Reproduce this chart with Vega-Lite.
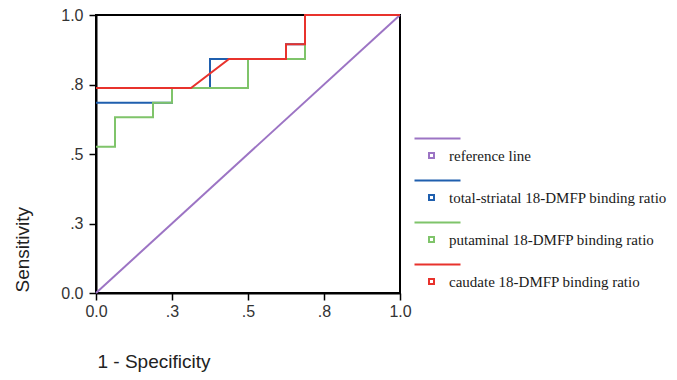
{
  "$schema": "https://vega.github.io/schema/vega-lite/v6.json",
  "autosize": "none",
  "padding": {"left": 96, "top": 15, "right": 277, "bottom": 87},
  "width": 304,
  "height": 278,
  "background": "white",
  "config": {
    "view": {"stroke": "black", "strokeWidth": 2},
    "axis": {
      "grid": false,
      "domainColor": "black",
      "domainWidth": 2,
      "tickColor": "black",
      "tickWidth": 1.5,
      "tickSize": 7,
      "labelFont": "Liberation Sans",
      "labelFontSize": 16,
      "labelColor": "#333333",
      "labelPadding": 6,
      "labelFlush": false,
      "titleFont": "Liberation Sans",
      "titleFontSize": 19,
      "titleFontWeight": "normal",
      "titleColor": "#222222"
    }
  },
  "data": {
    "values": [
      {"series": "reference line", "ord": 0, "fpr": 0, "tpr": 0},
      {"series": "reference line", "ord": 1, "fpr": 1, "tpr": 1},
      {"series": "total-striatal 18-DMFP binding ratio", "ord": 0, "fpr": 0, "tpr": 0.684},
      {"series": "total-striatal 18-DMFP binding ratio", "ord": 1, "fpr": 0.25, "tpr": 0.684},
      {"series": "total-striatal 18-DMFP binding ratio", "ord": 2, "fpr": 0.25, "tpr": 0.737},
      {"series": "total-striatal 18-DMFP binding ratio", "ord": 3, "fpr": 0.375, "tpr": 0.737},
      {"series": "total-striatal 18-DMFP binding ratio", "ord": 4, "fpr": 0.375, "tpr": 0.842},
      {"series": "total-striatal 18-DMFP binding ratio", "ord": 5, "fpr": 0.625, "tpr": 0.842},
      {"series": "total-striatal 18-DMFP binding ratio", "ord": 6, "fpr": 0.625, "tpr": 0.895},
      {"series": "total-striatal 18-DMFP binding ratio", "ord": 7, "fpr": 0.6875, "tpr": 0.895},
      {"series": "total-striatal 18-DMFP binding ratio", "ord": 8, "fpr": 0.6875, "tpr": 1},
      {"series": "total-striatal 18-DMFP binding ratio", "ord": 9, "fpr": 1, "tpr": 1},
      {"series": "putaminal 18-DMFP binding ratio", "ord": 0, "fpr": 0, "tpr": 0.526},
      {"series": "putaminal 18-DMFP binding ratio", "ord": 1, "fpr": 0.0625, "tpr": 0.526},
      {"series": "putaminal 18-DMFP binding ratio", "ord": 2, "fpr": 0.0625, "tpr": 0.632},
      {"series": "putaminal 18-DMFP binding ratio", "ord": 3, "fpr": 0.1875, "tpr": 0.632},
      {"series": "putaminal 18-DMFP binding ratio", "ord": 4, "fpr": 0.1875, "tpr": 0.684},
      {"series": "putaminal 18-DMFP binding ratio", "ord": 5, "fpr": 0.25, "tpr": 0.684},
      {"series": "putaminal 18-DMFP binding ratio", "ord": 6, "fpr": 0.25, "tpr": 0.737},
      {"series": "putaminal 18-DMFP binding ratio", "ord": 7, "fpr": 0.5, "tpr": 0.737},
      {"series": "putaminal 18-DMFP binding ratio", "ord": 8, "fpr": 0.5, "tpr": 0.842},
      {"series": "putaminal 18-DMFP binding ratio", "ord": 9, "fpr": 0.6875, "tpr": 0.842},
      {"series": "putaminal 18-DMFP binding ratio", "ord": 10, "fpr": 0.6875, "tpr": 1},
      {"series": "putaminal 18-DMFP binding ratio", "ord": 11, "fpr": 1, "tpr": 1},
      {"series": "caudate 18-DMFP binding ratio", "ord": 0, "fpr": 0, "tpr": 0.737},
      {"series": "caudate 18-DMFP binding ratio", "ord": 1, "fpr": 0.3125, "tpr": 0.737},
      {"series": "caudate 18-DMFP binding ratio", "ord": 2, "fpr": 0.4375, "tpr": 0.842},
      {"series": "caudate 18-DMFP binding ratio", "ord": 3, "fpr": 0.625, "tpr": 0.842},
      {"series": "caudate 18-DMFP binding ratio", "ord": 4, "fpr": 0.625, "tpr": 0.895},
      {"series": "caudate 18-DMFP binding ratio", "ord": 5, "fpr": 0.6875, "tpr": 0.895},
      {"series": "caudate 18-DMFP binding ratio", "ord": 6, "fpr": 0.6875, "tpr": 1},
      {"series": "caudate 18-DMFP binding ratio", "ord": 7, "fpr": 1, "tpr": 1}
    ]
  },
  "encoding": {
    "x": {
      "field": "fpr", "type": "quantitative",
      "scale": {"domain": [0, 1], "nice": false, "zero": false},
      "axis": {
        "values": [0, 0.25, 0.5, 0.75, 1],
        "labelExpr": "datum.value == 0 ? '0.0' : datum.value == 1 ? '1.0' : replace(format(datum.value, '.1f'), '0.', '.')",
        "labelPadding": 3,
        "title": "1 - Specificity",
        "titleAnchor": "start",
        "titleAlign": "left",
        "titleBaseline": "alphabetic",
        "titleX": 1,
        "titleY": 74
      }
    },
    "y": {
      "field": "tpr", "type": "quantitative",
      "scale": {"domain": [0, 1], "nice": false, "zero": false},
      "axis": {
        "values": [0, 0.25, 0.5, 0.75, 1],
        "labelExpr": "datum.value == 0 ? '0.0' : datum.value == 1 ? '1.0' : replace(format(datum.value, '.1f'), '0.', '.')",
        "title": "Sensitivity",
        "titleAngle": -90,
        "titleAlign": "left",
        "titleBaseline": "alphabetic",
        "titleX": -68,
        "titleY": 277
      }
    },
    "order": {"field": "ord", "type": "quantitative"},
    "color": {
      "field": "series", "type": "nominal",
      "scale": {
        "domain": ["reference line", "total-striatal 18-DMFP binding ratio", "putaminal 18-DMFP binding ratio", "caudate 18-DMFP binding ratio"],
        "range": ["#9c74c4", "#1f5fae", "#7fc46a", "#e8322c"]
      },
      "legend": {
        "title": null,
        "orient": "none",
        "legendX": 328,
        "legendY": 133,
        "symbolType": "M-3.4,-3.4H5.8M-0.5,-0.5H0.5V0.5H-0.5Z",
        "symbolSize": 100,
        "symbolStrokeWidth": 2,
        "symbolFillColor": "white",
        "labelFont": "Liberation Serif",
        "labelFontSize": 15,
        "labelColor": "#1a1a1a",
        "labelOffset": 10,
        "labelLimit": 300,
        "rowPadding": 12
      }
    }
  },
  "layer": [
    {"transform": [{"filter": "datum.series == 'reference line'"}], "mark": {"type": "line", "strokeWidth": 2}},
    {"transform": [{"filter": "datum.series == 'total-striatal 18-DMFP binding ratio'"}], "mark": {"type": "line", "strokeWidth": 2}},
    {"transform": [{"filter": "datum.series == 'putaminal 18-DMFP binding ratio'"}], "mark": {"type": "line", "strokeWidth": 2}},
    {"transform": [{"filter": "datum.series == 'caudate 18-DMFP binding ratio'"}], "mark": {"type": "line", "strokeWidth": 2}}
  ]
}
